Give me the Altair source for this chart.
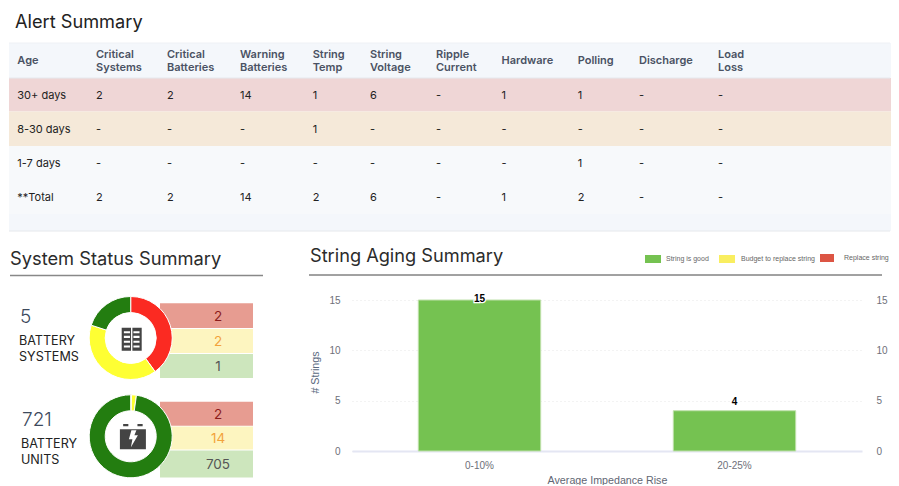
import altair as alt
import pandas as pd

# ---------- data ----------
columns = ["Age", "Critical\nSystems", "Critical\nBatteries", "Warning\nBatteries", "String\nTemp",
           "String\nVoltage", "Ripple\nCurrent", "Hardware", "Polling", "Discharge", "Load\nLoss"]
row_30 = ["30+ days", "2", "2", "14", "1", "6", "-", "1", "1", "-", "-"]
row_8 = ["8-30 days", "-", "-", "-", "1", "-", "-", "-", "-", "-", "-"]
row_1 = ["1-7 days", "-", "-", "-", "-", "-", "-", "-", "1", "-", "-"]
row_total = ["**Total", "2", "2", "14", "2", "6", "-", "1", "2", "-", "-"]

status = ["Critical", "Warning", "Good"]
systems = [2, 2, 1]
units = [2, 14, 705]

aging_cats = ["0-10%", "20-25%"]
aging_vals = [15, 4]
legend_names = ["String is good", "Budget to replace string", "Replace string"]

# ---------- style ----------
FONT = "Inter"
AX = "Liberation Sans"
COL_X = [9.3, 88, 159, 232, 304.7, 362, 428, 493.5, 569.7, 631, 710]
ROW_EDGES = [35, 70, 103.5, 138, 172, 206, 223]
ROW_FILL = ["#f4f7fb", "#efd6d6", "#f5e9d9", "#f7f9fb", "#f7f9fb", "#f4f7fb"]
STATUS_COL = ["#fb2a22", "#feff33", "#237d10"]
FUN_FILL = ["#e79c91", "#fdf5c0", "#cde6bd"] * 2
FUN_TEXT = ["#8c1c1c", "#f2a33c", "#555555"] * 2
FUN_EDGES = [72.3, 97, 98, 122, 123, 147, 170.7, 194.7, 195.5, 218.5, 219.5, 246.5]
CHART_W = 883
DONUT_X = 122.7


def box(x0, y0, x1, y1, hole=False):
    if hole:
        return f"M{x0},{y0}V{y1}H{x1}V{y0}Z"
    return f"M{x0},{y0}H{x1}V{y1}H{x0}Z"


def poly(points):
    return "M" + "L".join(f"{x / 13:.3f},{y / 13:.3f}" for x, y in points) + "Z"


ICON_SYS = box(-0.87, -1, 0.87, 1)
for cy in (-0.62, -0.21, 0.21, 0.62):
    for a, b in ((-0.68, -0.15), (0.15, 0.68)):
        ICON_SYS += box(a, cy - 0.09, b, cy + 0.09, hole=True)
ICON_SYS += box(-0.06, -1, 0.06, 1, hole=True)

ICON_BAT = (box(-1, -0.55, 1, 1) + box(-0.75, -0.95, -0.35, -0.77) + box(0.35, -0.95, 0.75, -0.77)
            + poly([(-1.5, -6), (-4, 3), (-0.5, 3), (-2, 11), (5, -1), (1.5, -1), (3.5, -6)]))


def label(text, x, y, size=11, color="#222222", weight="normal", font=FONT, align="left"):
    return alt.Chart(pd.DataFrame({"t": [text]})).mark_text(
        font=font, fontSize=size, color=color, fontWeight=weight, align=align, baseline="middle",
    ).encode(x=alt.value(x), y=alt.value(y), text="t:N")


def hline(x0, x1, y, color, width=1):
    return alt.Chart(pd.DataFrame({"a": [0]})).mark_rule(color=color, strokeWidth=width).encode(
        x=alt.value(x0), x2=alt.value(x1), y=alt.value(y))


# ---------- top table ----------
x_cols = alt.Scale(domain=list(range(len(COL_X))), range=COL_X)
y_rows = alt.Scale(domain=list(range(len(ROW_EDGES))), range=ROW_EDGES)

bands = pd.DataFrame({"r": range(6), "r2": range(1, 7), "f": ROW_FILL})
cells = []
for r, row in enumerate([row_30, row_8, row_1, row_total], start=1):
    for c, v in enumerate(row):
        cells.append({"c": c, "r": r + 0.5, "v": v})
cells = pd.DataFrame(cells)
heads = pd.DataFrame({"c": range(len(columns)), "r": [0.5] * len(columns), "v": columns})
heads_one = heads[~heads.v.str.contains("\n")]
heads_two = heads[heads.v.str.contains("\n")]

band_layer = alt.Chart(bands).mark_rect().encode(
    x=alt.value(1), x2=alt.value(CHART_W),
    y=alt.Y("r:Q", scale=y_rows, axis=None), y2="r2:Q",
    fill=alt.Fill("f:N", scale=None))


def head_layer(df, dy):
    return alt.Chart(df).mark_text(font=FONT, fontSize=11, fontWeight=600, color="#4a5263", align="left",
                                   baseline="middle", lineBreak="\n", lineHeight=13, dy=dy).encode(
        x=alt.X("c:Q", scale=x_cols, axis=None),
        y=alt.Y("r:Q", scale=y_rows, axis=None), text="v:N")


cell_layer = alt.Chart(cells).mark_text(font=FONT, fontSize=11, color="#222222", align="left",
                                        baseline="middle", dy=1).encode(
    x=alt.X("c:Q", scale=x_cols, axis=None),
    y=alt.Y("r:Q", scale=y_rows, axis=None), text="v:N")

top = alt.layer(
    band_layer,
    hline(1, CHART_W - 1, 35, "#eef1f5"), hline(1, CHART_W - 1, 70, "#e6e9ee"),
    hline(1, CHART_W - 1, 223, "#e6e8ec"),
    head_layer(heads_one, 0.5), head_layer(heads_two, -5.5), cell_layer,
    label("Alert Summary", 7, 15, size=18.2, color="#222222"),
).properties(width=CHART_W, height=223)

# ---------- left panel ----------
fun = []
for i, v in enumerate(systems + units):
    fun.append({"top": 2 * i, "bot": 2 * i + 1, "mid": 2 * i + 0.5, "v": str(v),
                "f": FUN_FILL[i], "c": FUN_TEXT[i]})
fun = pd.DataFrame(fun)
y_fun = alt.Scale(domain=list(range(12)), range=FUN_EDGES)
fun_rect = alt.Chart(fun).mark_rect().encode(
    x=alt.value(152), x2=alt.value(245),
    y=alt.Y("top:Q", scale=y_fun, axis=None), y2="bot:Q",
    fill=alt.Fill("f:N", scale=None))
fun_text = alt.Chart(fun).mark_text(font=FONT, fontSize=13.5, align="center", baseline="middle", dy=1).encode(
    x=alt.value(210), y=alt.Y("mid:Q", scale=y_fun, axis=None), text="v:N",
    color=alt.Color("c:N", scale=None))


def donut(values, cy):
    df = pd.DataFrame({"s": status, "v": values, "i": range(3)})
    halo = alt.Chart(pd.DataFrame({"a": [0]})).mark_circle(color="white", opacity=1, size=6648).encode(
        x=alt.value(DONUT_X), y=alt.value(cy))
    arc = alt.Chart(df).mark_arc(innerRadius=25.5, outerRadius=41.5, stroke="white", strokeWidth=1).encode(
        theta=alt.Theta("v:Q", stack="normalize"),
        order=alt.Order("i:Q"),
        color=alt.Color("s:N", scale=alt.Scale(domain=status, range=STATUS_COL), legend=None),
        x=alt.value(DONUT_X), y=alt.value(cy))
    return [halo, arc]


def icon(path, x, y, side):
    return alt.Chart(pd.DataFrame({"a": [0]})).mark_point(
        shape=path, filled=True, fill="#444444", stroke=None, opacity=1, size=side * side,
    ).encode(x=alt.value(x), y=alt.value(y))


left = alt.layer(
    label("System Status Summary", 2, 28.5, size=18.3, color="#2b2b2b"),
    hline(2, 255, 44.5, "#888888", 1.5),
    fun_rect, fun_text,
    *donut(systems, 107), *donut(units, 205.3),
    icon(ICON_SYS, 123.7, 108.3, 23), icon(ICON_BAT, 124.9, 205.3, 26),
    label("5", 12, 86, size=19, color="#3d4a5c", weight=300),
    label("BATTERY", 11, 109.5, size=12.6),
    label("SYSTEMS", 11, 125.5, size=12.6),
    label("721", 14, 189, size=19, color="#3d4a5c", weight=300),
    label("BATTERY", 13, 212.5, size=12.6),
    label("UNITS", 13, 228.5, size=12.6),
).properties(width=255, height=247)

# ---------- bar panel ----------
bars = pd.DataFrame({"k": aging_cats, "v": aging_vals})
VIEW_H = 220
y_bar = alt.Scale(domain=[0, 15], range=[VIEW_H, 69], nice=False)
x_bar = alt.Scale(domain=aging_cats, paddingInner=0.52, paddingOuter=0.26)
x_enc = alt.X("k:N", scale=x_bar, sort=None, title="Average Impedance Rise", axis=alt.Axis(
    labelAngle=0, labelFont=AX, labelFontSize=10, labelColor="#6e7079", labelPadding=9,
    titleFont=AX, titleFontSize=10.7, titleFontWeight="normal", titleColor="#5f6673", titlePadding=5,
    ticks=False, grid=False, domainColor="#e4e6f3", domainWidth=2))

bar_layer = alt.Chart(bars).mark_bar(color="#75c251", stroke="#bfe0ab", strokeWidth=1).encode(
    x=x_enc,
    y=alt.Y("v:Q", scale=y_bar, title="# Strings", axis=alt.Axis(
        values=[0, 5, 10, 15], labelFont=AX, labelFontSize=10, labelColor="#6e7079", labelPadding=12,
        titleFont=AX, titleFontSize=10.7, titleFontWeight="normal", titleColor="#5a6a80", titlePadding=8,
        titleY=141, domain=False, ticks=False, gridColor="#e6e6e6", gridDash=[1, 3], gridWidth=1)))
right_axis = alt.Chart(bars).mark_bar(opacity=0).encode(
    x=alt.X("k:N", scale=x_bar, sort=None),
    y=alt.Y("v:Q", scale=y_bar, axis=alt.Axis(
        orient="right", title=None, values=[0, 5, 10, 15], labelFont=AX, labelFontSize=10,
        labelColor="#6e7079", labelPadding=14, domain=False, ticks=False, grid=False)))


def value_text(val, dy):
    d = bars[bars.v == val]
    base = alt.Chart(d)
    kw = dict(font=AX, fontSize=10, fontWeight="bold", align="center", baseline="middle", dy=dy)
    enc = dict(x=alt.X("k:N", scale=x_bar, sort=None),
               y=alt.Y("v:Q", scale=y_bar, axis=None), text="v:Q")
    return [base.mark_text(stroke="white", strokeWidth=2.5, **kw).encode(**enc),
            base.mark_text(color="black", **kw).encode(**enc)]


LEG = [(293, 309, 24, 32, "#75c251"), (367, 383, 24, 32, "#f9ee60"), (468, 482, 23, 31, "#dc5544")]
LEG_TXT = [314, 389, 492]
LEG_Y = [27.5, 27.5, 26.5]
leg_layers = []
for i, name in enumerate(legend_names):
    x0, x1, y0, y1, col = LEG[i]
    leg_layers.append(alt.Chart(pd.DataFrame({"a": [0]})).mark_rect(color=col).encode(
        x=alt.value(x0), x2=alt.value(x1), y=alt.value(y0), y2=alt.value(y1)))
    leg_layers.append(label(name, LEG_TXT[i], LEG_Y[i], size=7, color="#666666", font=AX))

right = alt.layer(
    bar_layer, right_axis, *value_text(15, -1), *value_text(4, -9),
    label("String Aging Summary", -42, 26, size=18.2, color="#2b2b2b"),
    hline(-43, 530, 44, "#444444", 1),
    *leg_layers,
).resolve_scale(y="independent").properties(width=510, height=VIEW_H)

chart = alt.vconcat(
    top,
    alt.hconcat(left, right, spacing=89, bounds="flush"),
    spacing=0, bounds="flush",
).properties(padding=0, background="white").configure_view(stroke=None)

chart.save("out.html", embed_options={"renderer": "svg", "actions": False})
